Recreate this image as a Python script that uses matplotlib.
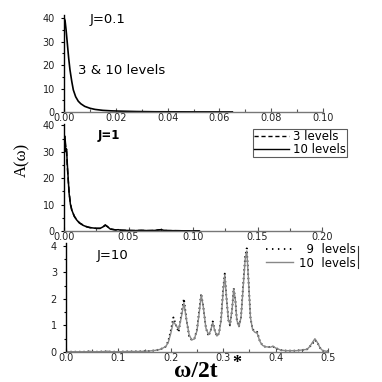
import matplotlib
matplotlib.use("Agg")
import matplotlib.pyplot as plt
from matplotlib.ticker import MultipleLocator, FormatStrFormatter
from matplotlib.lines import Line2D

# ---- Data ----
# Panel 1: J=0.1 (3 & 10 levels coincide)
x_j01 = [0.0, 0.0004, 0.0008, 0.0013, 0.0018, 0.0023, 0.003, 0.0036, 0.0045, 0.0055,
         0.0065, 0.008, 0.010, 0.012, 0.015, 0.018, 0.022, 0.028, 0.035, 0.05, 0.065]
y_j01 = [40, 39, 35, 29, 23, 18, 13, 9.4, 6.5, 4.6,
         3.5, 2.4, 1.6, 1.1, 0.7, 0.5, 0.35, 0.2, 0.1, 0.05, 0.03]

# Panel 2: J=1
x_j1 = [0.0, 0.0005, 0.001, 0.0015, 0.002, 0.0025, 0.0033, 0.004, 0.005, 0.006, 0.008,
        0.0098, 0.012, 0.015, 0.0176, 0.02, 0.025, 0.028, 0.030, 0.032, 0.034, 0.036,
        0.04, 0.042, 0.044, 0.05, 0.055, 0.06, 0.065, 0.07, 0.073, 0.075, 0.077, 0.08,
        0.09, 0.1, 0.105]
y_j1_10 = [30, 36, 33, 30, 31, 26, 19.4, 14, 10, 8, 5.5,
           4.2, 3.0, 2.1, 1.6, 1.3, 1.0, 1.0, 1.5, 2.3, 1.5, 0.7,
           0.4, 0.5, 0.3, 0.2, 0.15, 0.25, 0.15, 0.2, 0.4, 0.5, 0.3, 0.15,
           0.1, 0.05, 0.05]
y_j1_3 = [29, 35, 34, 31, 30, 25, 19, 14.5, 10.5, 8, 5.6,
          4.3, 3.1, 2.2, 1.6, 1.3, 1.0, 1.0, 1.4, 2.2, 1.6, 0.8,
          0.4, 0.45, 0.3, 0.2, 0.15, 0.2, 0.15, 0.2, 0.35, 0.45, 0.3, 0.15,
          0.1, 0.05, 0.05]

# Panel 3: J=10
x_j10 = [0.0, 0.02, 0.04, 0.045, 0.05, 0.06, 0.075, 0.08, 0.085, 0.1, 0.12, 0.14, 0.16,
         0.17, 0.18, 0.19, 0.195, 0.2, 0.205, 0.21, 0.215, 0.22, 0.225, 0.23, 0.235,
         0.24, 0.245, 0.25, 0.255, 0.258, 0.262, 0.267, 0.272, 0.276, 0.28, 0.284,
         0.288, 0.292, 0.296, 0.3, 0.303, 0.306, 0.31, 0.313, 0.317, 0.32, 0.323,
         0.326, 0.33, 0.334, 0.338, 0.342, 0.345, 0.348, 0.352, 0.356, 0.36, 0.365,
         0.37, 0.375, 0.38, 0.39, 0.395, 0.4, 0.41, 0.42, 0.44, 0.46, 0.465, 0.47,
         0.475, 0.48, 0.485, 0.49, 0.5]
y_j10_10 = [0.01, 0.01, 0.01, 0.03, 0.01, 0.01, 0.02, 0.03, 0.01, 0.01, 0.02, 0.02, 0.04,
            0.06, 0.1, 0.2, 0.35, 0.7, 1.15, 1.0, 0.85, 1.3, 1.85, 1.2, 0.65,
            0.45, 0.5, 0.8, 1.6, 2.15, 1.7, 0.9, 0.65, 0.8, 1.1, 0.8,
            0.6, 0.7, 1.2, 2.3, 2.9, 2.1, 1.2, 1.05, 1.6, 2.35, 2.0,
            1.2, 0.95, 1.3, 2.4, 3.5, 3.8, 2.8, 1.3, 0.85, 0.75, 0.7,
            0.4, 0.25, 0.2, 0.18, 0.22, 0.15, 0.07, 0.05, 0.05, 0.1, 0.2, 0.35,
            0.5, 0.35, 0.15, 0.05, 0.02]
y_j10_9 = [0.01, 0.01, 0.01, 0.03, 0.01, 0.01, 0.02, 0.03, 0.01, 0.01, 0.02, 0.02, 0.04,
           0.06, 0.1, 0.2, 0.4, 0.8, 1.3, 1.0, 0.75, 1.4, 2.0, 1.2, 0.6,
           0.45, 0.5, 0.85, 1.7, 2.2, 1.7, 0.9, 0.6, 0.8, 1.15, 0.8,
           0.6, 0.7, 1.25, 2.4, 2.95, 2.1, 1.2, 1.0, 1.6, 2.4, 2.0,
           1.2, 0.95, 1.3, 2.5, 3.6, 3.9, 2.8, 1.3, 0.85, 0.8, 0.75,
           0.4, 0.25, 0.2, 0.18, 0.2, 0.15, 0.07, 0.05, 0.05, 0.1, 0.2, 0.3,
           0.45, 0.35, 0.15, 0.05, 0.02]

# ---- Figure ----
plt.rcParams['font.family'] = ['DejaVu Sans']
fig = plt.figure(figsize=(3.82, 3.82), dpi=100)

W, H = 382.0, 382.0
def box(l, r, top, bottom):
    return [l / W, 1 - bottom / H, (r - l) / W, (bottom - top) / H]

ax1 = fig.add_axes(box(64, 323, 15, 112))
ax2 = fig.add_axes(box(64, 322, 124, 231))
ax3 = fig.add_axes(box(66, 328, 243, 352))

def style(ax, xmaj, xmin, ymaj, ymin, fmt):
    for s in ('top', 'right'):
        ax.spines[s].set_visible(False)
    ax.spines['left'].set_color('black')
    ax.spines['left'].set_linewidth(1.0)
    ax.spines['bottom'].set_color('#777777')
    ax.spines['bottom'].set_linewidth(1.0)
    ax.xaxis.set_major_locator(MultipleLocator(xmaj))
    ax.xaxis.set_minor_locator(MultipleLocator(xmin))
    ax.yaxis.set_major_locator(MultipleLocator(ymaj))
    ax.yaxis.set_minor_locator(MultipleLocator(ymin))
    ax.xaxis.set_major_formatter(FormatStrFormatter(fmt))
    ax.tick_params(axis='x', which='major', direction='in', length=3, width=0.8,
                   pad=1.0, labelsize=7, color='#555555', labelcolor='#222222')
    ax.tick_params(axis='x', which='minor', direction='in', length=2, width=0.8,
                   color='#555555')
    ax.tick_params(axis='y', which='major', direction='out', length=2.5, width=0.8,
                   pad=4, labelsize=7, labelcolor='#222222')
    ax.tick_params(axis='y', which='minor', direction='out', length=1.5, width=0.8)

# Panel 1
ax1.plot(x_j01, y_j01, color='black', lw=1.2)
ax1.set_xlim(0, 0.10)
ax1.set_ylim(0, 41.3)
style(ax1, 0.02, 0.01, 10, 5, '%.2f')
ax1.text(90 / W, 1 - 19 / H, 'J=0.1', transform=fig.transFigure, fontsize=9.5,
         va='center', ha='left')
ax1.text(78 / W, 1 - 71 / H, '3 & 10 levels', transform=fig.transFigure, fontsize=9.5,
         va='center', ha='left')

# Panel 2
ax2.plot(x_j1, y_j1_3, color='black', lw=1.1, ls=(0, (4, 2)), label='3 levels')
ax2.plot(x_j1, y_j1_10, color='black', lw=1.1, label='10 levels')
ax2.set_xlim(0, 0.20)
ax2.set_ylim(0, 40.5)
style(ax2, 0.05, 0.025, 10, 5, '%.2f')
ax2.text(98 / W, 1 - 136 / H, 'J=1', transform=fig.transFigure, fontsize=8.5,
         fontweight='bold', va='center', ha='left')
h2 = [Line2D([], [], color='black', lw=1.0, ls=(0, (3, 2))),
      Line2D([], [], color='black', lw=1.0)]
leg2 = ax2.legend(h2, ['3 levels', '10 levels'], loc='upper right',
                  bbox_to_anchor=(347 / W, 1 - 129 / H), bbox_transform=fig.transFigure,
                  fontsize=8.5, frameon=True, fancybox=False, borderpad=0.1,
                  labelspacing=0.0, handlelength=3.0, handletextpad=0.3,
                  borderaxespad=0)
leg2.get_frame().set_edgecolor('#333333')
leg2.get_frame().set_linewidth(0.8)

# Panel 3
ax3.plot(x_j10, y_j10_9, color='black', lw=1.3, ls=(0, (0.8, 1.6)))
ax3.plot(x_j10, y_j10_10, color='#888888', lw=1.0)
ax3.set_xlim(0, 0.5)
ax3.set_ylim(0, 4.1)
style(ax3, 0.1, 0.05, 1, 0.5, '%.1f')
ax3.text(97 / W, 1 - 255 / H, 'J=10', transform=fig.transFigure, fontsize=9.5,
         va='center', ha='left')
h3 = [Line2D([], [], color='black', lw=1.3, ls=(0, (0.8, 2.5))),
      Line2D([], [], color='#888888', lw=1.0)]
leg3 = ax3.legend(h3, ['  9  levels', '10  levels'], loc='upper right',
                  bbox_to_anchor=(356 / W, 1 - 243 / H), bbox_transform=fig.transFigure,
                  fontsize=8.5, frameon=False, borderpad=0.0, labelspacing=0.05,
                  handlelength=2.3, handletextpad=0.5, borderaxespad=0)
fig.add_artist(Line2D([358 / W, 358 / W], [1 - 246 / H, 1 - 268 / H],
                      transform=fig.transFigure, color='#333333', lw=0.8))

# Axis labels
fig.text(22 / W, 1 - 160 / H, 'A(ω)', rotation=90, fontsize=12,
         family=['Liberation Serif', 'DejaVu Serif'], va='center', ha='center')
fig.text(196 / W, 1 - 377 / H, 'ω/2t', fontsize=17, fontweight='bold',
         family=['Liberation Serif', 'DejaVu Serif'], va='baseline', ha='center')
fig.text(232 / W, 1 - 363 / H, '*', fontsize=13, fontweight='bold',
         family=['Liberation Serif', 'DejaVu Serif'], va='center', ha='left')

fig.savefig('out.png', dpi=100)
